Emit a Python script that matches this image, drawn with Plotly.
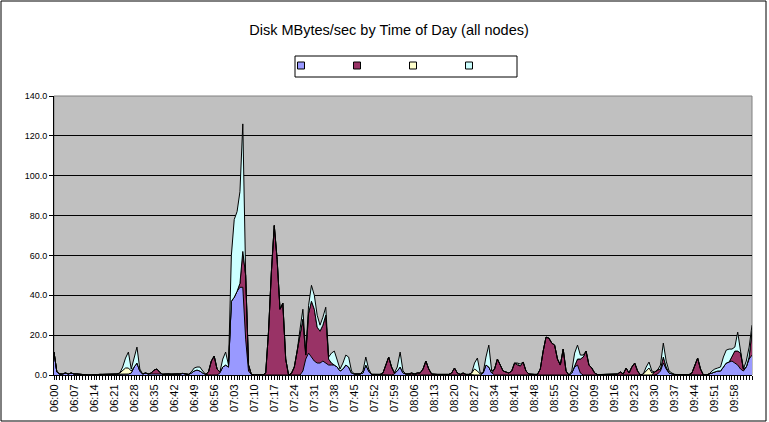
import plotly.graph_objects as go

TITLE = "Disk MBytes/sec by Time of Day (all nodes)"

# every 7th minute gets a label (06:00 .. 09:58), 245 one-minute samples in total
TICK_LABELS = [
    "06:00", "06:07", "06:14", "06:21", "06:28", "06:35", "06:42", "06:49",
    "06:56", "07:03", "07:10", "07:17", "07:24", "07:31", "07:38", "07:45",
    "07:52", "07:59", "08:06", "08:13", "08:20", "08:27", "08:34", "08:41",
    "08:48", "08:55", "09:02", "09:09", "09:16", "09:23", "09:30", "09:37",
    "09:44", "09:51", "09:58",
]
N_POINTS = 245

blue = [
    11.5, 1.5, 0.5, 0.5, 1, 0.5, 1, 0.5, 0.5, 0.3,        # 0
    0.2, 0.2, 0, 0, 0.2, 0.3, 0.3, 0.3, 0.3, 0.3,         # 10
    0.3, 0.3, 0.5, 0.5, 0.5, 0.5, 0.5, 1, 4, 6,           # 20
    2, 0.5, 1, 0.5, 0.5, 0.5, 0.5, 0.3, 0.3, 0.5,         # 30
    0.5, 0.3, 0.5, 0.5, 0.5, 0.8, 0.5, 0.3, 1, 2,         # 40
    2.5, 2, 1, 0.3, 0, 0, 0, 0, 1, 4,                     # 50
    5, 4, 37, 39, 42, 44, 44, 18, 2, 0.3,                 # 60
    0, 0, 0, 0, 0, 0, 0, 0, 0, 0,                         # 70
    0, 0, 0, 0.3, 0, 0, 0, 2, 8, 11,                      # 80
    9, 7, 6, 6, 7, 6, 5, 5, 5, 4,                         # 90
    2, 3, 5, 4, 1, 0.5, 0.5, 0.5, 1, 5,                   # 100
    2, 0.3, 0.3, 0.3, 0.3, 0, 0, 0, 0, 0.5,               # 110
    2, 4, 1, 0.5, 0.5, 0, 0.5, 0, 0, 0,                   # 120
    0, 0, 0, 0.3, 0.3, 0.3, 0.3, 0.3, 0.3, 0,             # 130
    0, 0, 0.3, 0, 0.3, 0.3, 0, 0, 0, 0,                   # 140
    1, 5, 4, 1, 0, 0, 0, 0, 0, 0,                         # 150
    0, 0, 0, 0, 0, 0, 0, 0.3, 0.3, 0.3,                   # 160
    0, 0, 0, 0, 0, 0, 0, 0, 0, 0,                         # 170
    0, 1, 4, 5, 1, 0, 0, 0, 0, 0,                         # 180
    0.2, 0.2, 0.2, 0.2, 0.2, 0.2, 0.2, 0, 0, 0,           # 190
    0, 0, 0, 0, 0, 0, 0, 0, 0, 0,                         # 200
    0, 0.5, 2, 6, 3, 1, 0.5, 0.2, 0.2, 0.2,               # 210
    0.2, 0.2, 0.2, 0, 0, 0, 0, 0, 0, 0.5,                 # 220
    1, 1.5, 2, 2, 4, 6, 6.5, 7, 6, 5,                     # 230
    3, 2, 4, 8, 10,                                       # 240
]

maroon = [
    0, 0, 0, 0, 0, 0, 0, 0, 0, 0,                         # 0
    0, 0, 0, 0, 0, 0, 0, 0, 0, 0,                         # 10
    0, 0, 0, 0, 0, 0, 0, 0, 0, 0,                         # 20
    0, 0, 0, 0, 0.5, 2, 2.5, 1, 0, 0,                     # 30
    0, 0, 0, 0, 0, 0, 0, 0, 0, 0,                         # 40
    0, 0, 0, 0, 1.5, 7, 9.5, 3, 0.5, 0,                   # 50
    0, 0, 0, 0, 0, 2, 18, 32, 3, 0,                       # 60
    0, 0, 0, 0, 1, 22, 52, 75, 58, 33,                    # 70
    36, 8, 0, 0.5, 4, 12, 22, 26, 2, 20,                  # 80
    28, 26, 18, 16, 18, 24, 3, 1, 0, 0,                   # 90
    0, 0, 0, 0, 0, 0, 0, 0, 0, 0,                         # 100
    0, 0, 0, 0, 0, 1, 5, 9, 4, 0.5,                       # 110
    0, 0, 0, 0, 0, 1, 0, 1, 1, 3,                         # 120
    7, 3, 0.5, 0, 0, 0, 0, 0, 0, 1,                       # 130
    3.5, 1, 0, 1, 0, 0, 0, 0, 0, 0,                       # 140
    0, 0, 0, 0, 3, 8, 5, 2, 1.5, 1,                       # 150
    2, 6, 5, 4.5, 6.5, 2, 0.5, 0, 0, 0,                   # 160
    3, 12, 19, 18.5, 16, 15, 8, 5, 13, 2,                 # 170
    0, 0, 1, 3, 7, 9, 12, 5, 3.5, 1,                      # 180
    0, 0, 0, 0, 0, 0, 0, 0.5, 1.5, 0.5,                   # 190
    3.5, 1, 4, 6, 2, 0, 0, 0, 0, 0,                       # 200
    1.5, 2, 1, 3, 1, 0, 0, 0, 0, 0,                       # 210
    0, 0, 0, 1, 5, 8.5, 3, 0, 0, 0,                       # 220
    0, 0, 0, 0, 0, 0, 0, 2, 6, 7,                         # 230
    8, 1, 0, 1, 12,                                       # 240
]

yellow = [
    0, 0, 0, 0, 0, 0, 0, 0, 0, 0,                         # 0
    0, 0, 0, 0, 0, 0, 0, 0, 0, 0,                         # 10
    0, 0, 0, 0.5, 2, 3, 3, 1, 0, 0,                       # 20
    0, 0, 0, 0, 0, 0, 0, 0, 0, 0,                         # 30
    0, 0, 0, 0, 0, 0, 0, 0, 0, 0,                         # 40
    0, 0, 0, 0, 0, 0, 0, 0, 0, 0,                         # 50
    0, 0, 0, 0, 0, 0, 0, 0, 0, 0,                         # 60
    0, 0, 0, 0, 0, 0, 0, 0, 0, 0,                         # 70
    0, 0, 0, 0, 0, 0, 0, 0, 0, 0,                         # 80
    0, 0, 0, 0, 0, 0, 0, 0, 0, 0,                         # 90
    0, 0, 0, 0, 0, 0, 0, 0, 0, 0,                         # 100
    0, 0, 0, 0, 0, 0, 0, 0, 0, 0,                         # 110
    0, 0, 0, 0, 0, 0, 0, 0, 0, 0,                         # 120
    0, 0, 0, 0, 0, 0, 0, 0, 0, 0,                         # 130
    0, 0, 0, 0, 0, 0, 1, 3, 2, 0.5,                       # 140
    0, 0, 0, 0, 0, 0, 0, 0, 0, 0,                         # 150
    0, 0, 0.5, 0, 0, 0, 0, 0, 0, 0,                       # 160
    0, 0, 0, 0, 0, 0, 0, 0, 0, 0,                         # 170
    0, 0, 0, 0, 0, 0, 0, 0, 0, 0,                         # 180
    0, 0, 0, 0, 0, 0, 0, 0, 0, 0,                         # 190
    0, 0, 0, 0, 0, 0, 0.5, 2, 3.5, 1,                     # 200
    0, 0, 0, 0, 0, 0, 0, 0, 0, 0,                         # 210
    0, 0, 0, 0, 0, 0, 0, 0, 0, 0,                         # 220
    0, 0, 0, 0, 0, 0, 0, 0, 0, 0,                         # 230
    0, 0, 0, 0, 0,                                        # 240
]

cyan = [
    0, 0, 0, 0, 0, 0, 0, 0, 0, 0,                         # 0
    0, 0, 0, 0, 0, 0, 0, 0, 0, 0,                         # 10
    0, 0, 0, 0, 1.5, 5, 8, 1, 4, 8,                       # 20
    1, 0, 0, 0, 0, 0, 0, 0, 0, 0,                         # 30
    0, 0, 0, 0, 0, 0, 0, 0, 0.5, 1.5,                     # 40
    1.5, 2, 1, 0, 0, 0, 0, 0, 0, 4,                       # 50
    6.5, 1, 23, 39, 40, 46, 64, 0, 0, 0,                  # 60
    0, 0, 0, 0, 0, 0, 0, 0, 0, 0,                         # 70
    0, 0, 0, 0, 0, 0, 1, 5, 1, 4,                         # 80
    8, 7, 6, 3, 4, 4, 1, 5, 7, 4,                         # 90
    1, 3, 5, 5, 1, 0, 0, 0, 1, 4,                         # 100
    1, 0, 0, 0, 0, 0, 0, 0, 0, 0,                         # 110
    2, 7.5, 1, 0, 0, 0, 0, 0, 0, 0,                       # 120
    0, 0, 0, 0, 0, 0, 0, 0, 0, 0,                         # 130
    0, 0, 0, 0, 0, 0, 0, 3, 6.5, 0.5,                     # 140
    0, 4, 11, 1, 0, 0, 0, 0, 0, 0,                        # 150
    0, 0, 0.5, 1, 0, 0, 0, 0, 0, 0,                       # 160
    0, 0, 0, 0, 0, 0, 0, 0, 0, 0,                         # 170
    0, 1, 6, 7, 2, 1, 0, 0, 0, 0,                         # 180
    0, 0, 0, 0, 0, 0, 0, 0, 0, 0,                         # 190
    0, 0, 0, 0, 0, 0, 0, 2, 3, 1,                         # 200
    0, 0, 2, 7, 3, 1, 0.5, 0, 0, 0,                       # 210
    0, 0, 0, 0, 0, 0, 0, 0, 0, 0,                         # 220
    1, 1.5, 1.5, 2, 5, 6.5, 6.5, 4, 2, 9.5,               # 230
    1, 0, 3, 5, 3,                                        # 240
]

for s in (blue, maroon, yellow, cyan):
    assert len(s) == N_POINTS

# category positions 0..244, labels on every 7th one
x = list(range(N_POINTS))
tick_text = [""] * N_POINTS
for k, lab in enumerate(TICK_LABELS):
    tick_text[k * 7] = lab

series = [
    (blue, "#9999FF"),
    (maroon, "#993366"),
    (yellow, "#FFFFCC"),
    (cyan, "#CCFFFF"),
]

fig = go.Figure()

for vals, col in series:
    fig.add_trace(go.Scatter(
        x=x,
        y=vals,
        mode="lines",
        stackgroup="disk",
        line={"color": "black", "width": 1},
        fillcolor=col,
        showlegend=False,
        hoverinfo="skip",
    ))

# legend squares (the series have no names in the original)
for vals, col in series:
    fig.add_trace(go.Scatter(
        x=[None],
        y=[None],
        mode="markers",
        name=" ",
        marker={"symbol": "square", "size": 7, "color": col,
                "line": {"color": "black", "width": 1}},
    ))

# plot area: x 54..752, y 96..375 px
L, R, T, B = 54, 17, 96, 47
PW, PH = 769 - L - R, 422 - T - B

def px_x(p):
    return (p - L) / PW

def px_y(p):
    return (422 - B - p) / PH

fig.update_layout(
    width=769,
    height=422,
    margin={"l": L, "r": R, "t": T, "b": B, "pad": 0, "autoexpand": False},
    paper_bgcolor="white",
    plot_bgcolor="#C0C0C0",
    font={"family": "Arial, Liberation Sans, sans-serif", "size": 9, "color": "black"},
    title={
        "text": TITLE,
        "x": 389 / 769,
        "xanchor": "center",
        "y": 1 - 30 / 422,
        "yanchor": "middle",
        "font": {"size": 14.5, "color": "black"},
    },
    legend={
        "orientation": "h",
        "traceorder": "normal",
        "x": px_x(281),
        "y": px_y(51),
        "xanchor": "left",
        "yanchor": "top",
        "bgcolor": "rgba(0,0,0,0)",
        "borderwidth": 0,
        "entrywidth": 11,
        "entrywidthmode": "pixels",
        "font": {"size": 9},
    },
    xaxis={
        "range": [0, N_POINTS - 1],
        "tickmode": "array",
        "tickvals": x,
        "ticktext": tick_text,
        "tickangle": -90,
        "tickfont": {"size": 11},
        "ticks": "outside",
        "ticklen": 4,
        "tickcolor": "black",
        "showgrid": False,
        "showline": True,
        "linecolor": "black",
        "linewidth": 1,
        "zeroline": False,
    },
    yaxis={
        "range": [0, 140],
        "dtick": 20,
        "tickformat": ".1f",
        "ticks": "outside",
        "ticklen": 4,
        "tickcolor": "black",
        "gridcolor": "black",
        "gridwidth": 1,
        "showline": True,
        "linecolor": "black",
        "linewidth": 1,
        "zeroline": False,
    },
    shapes=[
        # outer chart border
        {"type": "rect", "xref": "paper", "yref": "paper",
         "x0": px_x(1), "x1": px_x(766), "y0": px_y(421), "y1": px_y(1),
         "line": {"color": "black", "width": 1}},
        # legend box
        {"type": "rect", "xref": "paper", "yref": "paper",
         "x0": px_x(295), "x1": px_x(517), "y0": px_y(77), "y1": px_y(56),
         "line": {"color": "black", "width": 1}, "fillcolor": "white"},
        # plot area frame
        {"type": "rect", "xref": "paper", "yref": "paper",
         "x0": 0, "x1": 1, "y0": 0, "y1": 1,
         "line": {"color": "#808080", "width": 1}, "layer": "below"},
    ],
)

# the page body has a default 8px margin; drop it so the chart sits at 0,0
fig.write_html(
    "out.html",
    config={"displayModeBar": False},
    post_script="document.body.style.margin='0';",
)
